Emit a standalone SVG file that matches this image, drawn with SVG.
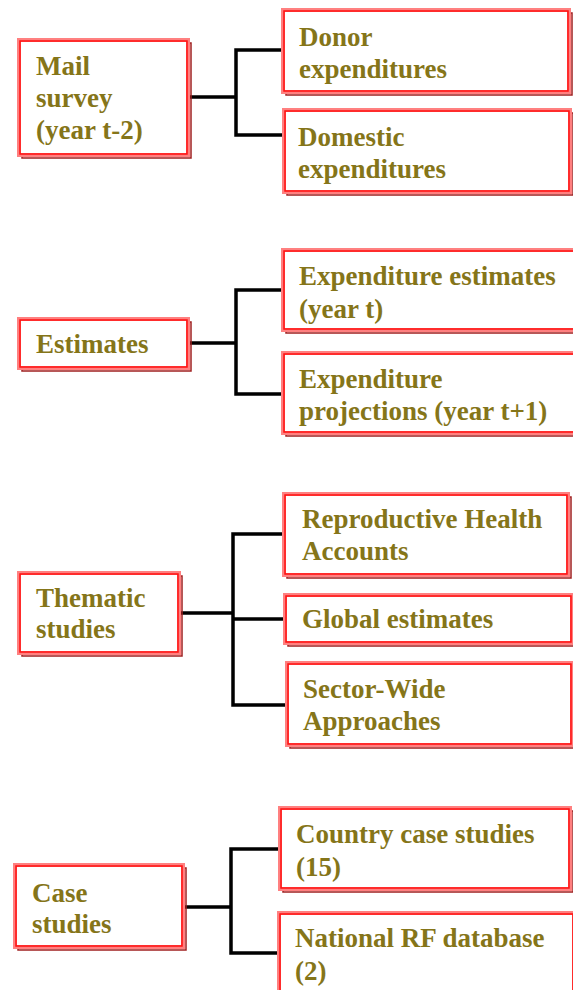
<svg xmlns="http://www.w3.org/2000/svg" width="573" height="990" viewBox="0 0 573 990">
<defs>
<style>
.bg{fill:#ffffff}
.sh{fill:none;stroke:#a02020;stroke-width:1.5}
.ou{fill:#ffffff;stroke:#ff8080;stroke-width:4}
.in{fill:none;stroke:#ff1010;stroke-width:1.5}
.t{font-family:"Liberation Serif","Times New Roman",serif;font-weight:bold;font-size:27px;fill:#857519}
.c{fill:none;stroke:#000000;stroke-width:3.5;stroke-linecap:square}
</style>
</defs>
<rect class="bg" x="0" y="0" width="573" height="990"/>
<g id="connectors">
<path class="c" d="M188 97H236M236 50V135M236 50H283M236 135H284"/>
<path class="c" d="M188 343H236M236 290V394M236 290H283M236 394H283"/>
<path class="c" d="M179 613H233M233 534V705M233 534H284M233 619H285M233 705H287"/>
<path class="c" d="M183 907H231M231 849V953M231 849H280M231 953H279"/>
</g>
<g id="mail">
<rect class="sh" x="22" y="43" width="169" height="115"/>
<rect class="ou" x="19" y="40" width="169" height="115"/>
<rect class="in" x="20" y="41" width="167" height="113"/>
<text class="t" x="36" y="75">Mail</text>
<text class="t" x="36" y="107">survey</text>
<text class="t" x="36" y="139">(year t-2)</text>
</g>
<g id="donor">
<rect class="sh" x="286" y="13" width="286" height="82"/>
<rect class="ou" x="283" y="10" width="286" height="82"/>
<rect class="in" x="284" y="11" width="284" height="80"/>
<text class="t" x="299" y="46">Donor</text>
<text class="t" x="299" y="78">expenditures</text>
</g>
<g id="domestic">
<rect class="sh" x="287" y="113" width="286" height="82"/>
<rect class="ou" x="284" y="110" width="286" height="82"/>
<rect class="in" x="285" y="111" width="284" height="80"/>
<text class="t" x="298" y="146">Domestic</text>
<text class="t" x="298" y="178">expenditures</text>
</g>
<g id="estimates">
<rect class="sh" x="22" y="322" width="169" height="49"/>
<rect class="ou" x="19" y="319" width="169" height="49"/>
<rect class="in" x="20" y="320" width="167" height="47"/>
<text class="t" x="36" y="353">Estimates</text>
</g>
<g id="exp-est">
<rect class="sh" x="286" y="253" width="300" height="80"/>
<rect class="ou" x="283" y="250" width="300" height="80"/>
<rect class="in" x="284" y="251" width="298" height="78"/>
<text class="t" x="299" y="285">Expenditure estimates</text>
<text class="t" x="299" y="318">(year t)</text>
</g>
<g id="exp-proj">
<rect class="sh" x="286" y="356" width="300" height="80"/>
<rect class="ou" x="283" y="353" width="300" height="80"/>
<rect class="in" x="284" y="354" width="298" height="78"/>
<text class="t" x="299" y="388">Expenditure</text>
<text class="t" x="299" y="420">projections (year t+1)</text>
</g>
<g id="thematic">
<rect class="sh" x="22" y="576" width="160" height="80"/>
<rect class="ou" x="19" y="573" width="160" height="80"/>
<rect class="in" x="20" y="574" width="158" height="78"/>
<text class="t" x="36" y="607">Thematic</text>
<text class="t" x="36" y="638">studies</text>
</g>
<g id="rha">
<rect class="sh" x="287" y="497" width="284" height="81"/>
<rect class="ou" x="284" y="494" width="284" height="81"/>
<rect class="in" x="285" y="495" width="282" height="79"/>
<text class="t" x="302" y="528">Reproductive Health</text>
<text class="t" x="302" y="560">Accounts</text>
</g>
<g id="global">
<rect class="sh" x="288" y="598" width="287" height="48"/>
<rect class="ou" x="285" y="595" width="287" height="48"/>
<rect class="in" x="286" y="596" width="285" height="46"/>
<text class="t" x="302" y="628">Global estimates</text>
</g>
<g id="swap">
<rect class="sh" x="290" y="666" width="285" height="82"/>
<rect class="ou" x="287" y="663" width="285" height="82"/>
<rect class="in" x="288" y="664" width="283" height="80"/>
<text class="t" x="303" y="698">Sector-Wide</text>
<text class="t" x="303" y="730">Approaches</text>
</g>
<g id="case">
<rect class="sh" x="18" y="868" width="168" height="82"/>
<rect class="ou" x="15" y="865" width="168" height="82"/>
<rect class="in" x="16" y="866" width="166" height="80"/>
<text class="t" x="32" y="902">Case</text>
<text class="t" x="32" y="933">studies</text>
</g>
<g id="country">
<rect class="sh" x="283" y="811" width="290" height="81"/>
<rect class="ou" x="280" y="808" width="290" height="81"/>
<rect class="in" x="281" y="809" width="288" height="79"/>
<text class="t" x="296" y="843">Country case studies</text>
<text class="t" x="296" y="876">(15)</text>
</g>
<g id="national">
<rect class="sh" x="282" y="916" width="295" height="90"/>
<rect class="ou" x="279" y="913" width="295" height="90"/>
<rect class="in" x="280" y="914" width="293" height="88"/>
<text class="t" x="295" y="947">National RF database</text>
<text class="t" x="295" y="980">(2)</text>
</g>
</svg>
